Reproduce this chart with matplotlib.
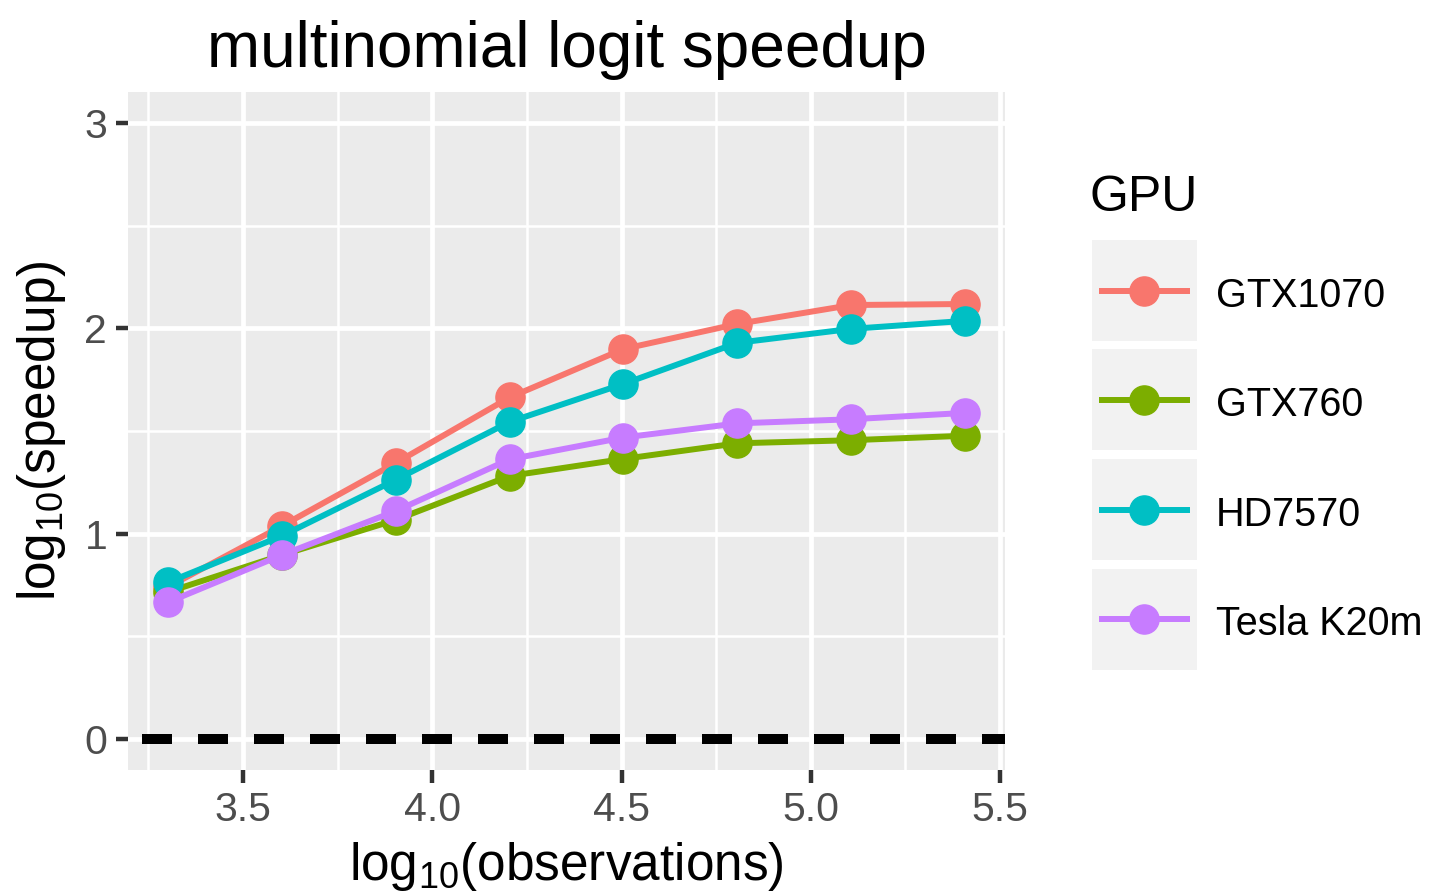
import matplotlib
matplotlib.use("Agg")
import matplotlib.pyplot as plt

# ---- data (log10 observations vs log10 speedup) ----
log_obs = [3.301, 3.602, 3.903, 4.204, 4.505, 4.806, 5.107, 5.408]
gpus = ["GTX1070", "GTX760", "HD7570", "Tesla K20m"]
gtx1070 = [0.74, 1.037, 1.344, 1.663, 1.899, 2.021, 2.113, 2.118]
gtx760 = [0.716, 0.896, 1.067, 1.281, 1.364, 1.440, 1.455, 1.477]
hd7570 = [0.763, 0.989, 1.262, 1.544, 1.729, 1.929, 1.997, 2.036]
tesla_k20m = [0.666, 0.896, 1.110, 1.362, 1.468, 1.537, 1.557, 1.588]
x_ticks = [3.5, 4.0, 4.5, 5.0, 5.5]
y_ticks = [0, 1, 2, 3]

colors = ["#F8766D", "#7CAE00", "#00BFC4", "#C77CFF"]
series = [gtx1070, gtx760, hd7570, tesla_k20m]

FONT = "Liberation Sans"
plt.rcParams["font.family"] = [FONT, "DejaVu Sans"]
plt.rcParams["mathtext.default"] = "regular"

fig = plt.figure(figsize=(14.34, 8.92), dpi=100)
ax = fig.add_axes([0.0893, 0.1368, 0.6115, 0.7601])
ax.set_facecolor("#EBEBEB")
for s in ax.spines.values():
    s.set_visible(False)

# grid: major + minor, white
for v in x_ticks:
    ax.axvline(v, color="white", lw=3.4, zorder=1)
for v in [3.25, 3.75, 4.25, 4.75, 5.25]:
    ax.axvline(v, color="white", lw=1.8, zorder=1)
for v in y_ticks:
    ax.axhline(v, color="white", lw=3.4, zorder=1)
for v in [0.5, 1.5, 2.5]:
    ax.axhline(v, color="white", lw=1.8, zorder=1)

# zero reference line
ax.axhline(0, color="black", lw=7.2, linestyle=(4.2, (3.0, 2.6)),
           dash_capstyle="butt", zorder=2)

for ys, c in zip(series, colors):
    ax.plot(log_obs, ys, color=c, lw=4.3, marker="o", ms=21, zorder=3,
            solid_capstyle="butt")

ax.set_xlim(3.196, 5.513)
ax.set_ylim(-0.15, 3.15)
ax.set_xticks(x_ticks)
ax.set_xticklabels(["3.5", "4.0", "4.5", "5.0", "5.5"])
ax.set_yticks(y_ticks)
ax.tick_params(axis="both", length=9, width=3.2, color="#333333",
               labelcolor="#4D4D4D", labelsize=29.5, pad=6)

ax.set_xlabel("log$_{10}$(observations)", fontsize=37, labelpad=8)
ax.set_ylabel("log$_{10}$(speedup)", fontsize=37, labelpad=12)
ax.set_title("multinomial logit speedup", fontsize=46, pad=18)

# legend built by hand so the keys get their grey boxes
fig.text(0.760, 0.7635, "GPU", fontsize=36, ha="left", va="baseline")
key_bottoms = [0.6177, 0.4955, 0.3722, 0.2489]
for name, c, b in zip(gpus, colors, key_bottoms):
    kax = fig.add_axes([0.7615, b, 0.0732, 0.1132])
    kax.set_facecolor("#F2F2F2")
    for s in kax.spines.values():
        s.set_visible(False)
    kax.set_xticks([])
    kax.set_yticks([])
    kax.set_xlim(0, 1)
    kax.set_ylim(0, 1)
    kax.plot([0.067, 0.933], [0.5, 0.5], color=c, lw=4.3, solid_capstyle="butt")
    kax.plot([0.5], [0.5], color=c, marker="o", ms=21)
    fig.text(0.848, b + 0.051, name, fontsize=28.5, ha="left", va="center")

fig.savefig("out.png", dpi=100)
